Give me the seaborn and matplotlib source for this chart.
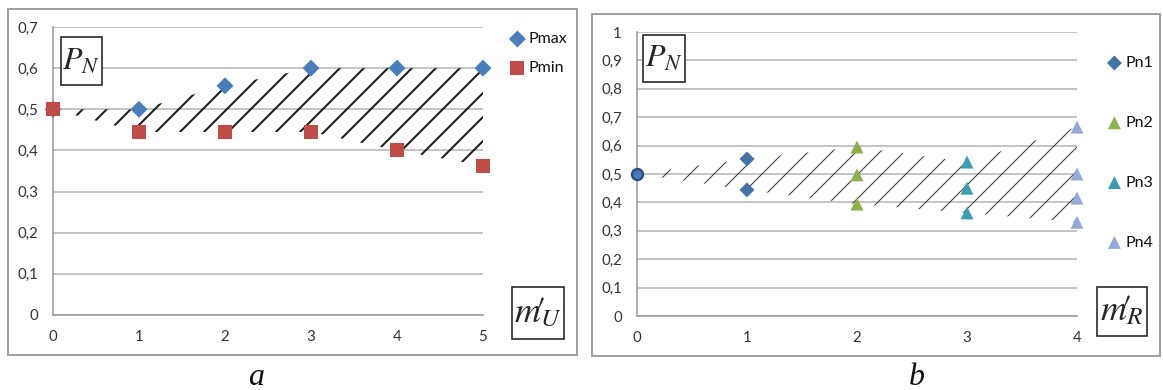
import seaborn as sns
import matplotlib.pyplot as plt
import pandas as pd
from matplotlib.patches import Rectangle

# panel a data
x_a = [0, 1, 2, 3, 4, 5]
pmax = [0.5, 0.5, 0.557, 0.6, 0.6, 0.6]
pmin = [0.5, 0.445, 0.445, 0.445, 0.4, 0.363]
yticks_a = [0, 0.1, 0.2, 0.3, 0.4, 0.5, 0.6, 0.7]
ylabels_a = ['0', '0,1', '0,2', '0,3', '0,4', '0,5', '0,6', '0,7']
xticks_a = [0, 1, 2, 3, 4, 5]

# panel b data
pn0_x = [0]
pn0_y = [0.5]
pn1_x = [1, 1]
pn1_y = [0.553, 0.444]
pn2_x = [2, 2, 2]
pn2_y = [0.595, 0.497, 0.394]
pn3_x = [3, 3, 3]
pn3_y = [0.542, 0.45, 0.363]
pn4_x = [4, 4, 4, 4]
pn4_y = [0.665, 0.5, 0.415, 0.33]
yticks_b = [0, 0.1, 0.2, 0.3, 0.4, 0.5, 0.6, 0.7, 0.8, 0.9, 1.0]
ylabels_b = ['0', '0,1', '0,2', '0,3', '0,4', '0,5', '0,6', '0,7', '0,8', '0,9', '1']
xticks_b = [0, 1, 2, 3, 4]

sns.set_style('white')
plt.rcParams['font.family'] = ['Lato', 'DejaVu Sans']
plt.rcParams['mathtext.fontset'] = 'stix'

W, H = 1163, 390
DPI = 144
fig = plt.figure(figsize=(W / DPI, H / DPI), dpi=DPI)

ax_a = fig.add_axes([53 / W, 1 - 315 / H, 430 / W, 288 / H])
ax_b = fig.add_axes([637 / W, 1 - 316 / H, 440 / W, 284 / H])

grid_c = '#BEBEBE'
axis_c = '#9A9A9A'
text_c = '#333333'


def style_axes(ax, xmax, ymax, yticks, ylabels, xticks):
    ax.set_xlim(0, xmax)
    ax.set_ylim(0, ymax)
    ax.set_yticks(yticks)
    ax.set_yticklabels(ylabels)
    ax.set_xticks(xticks)
    ax.set_xticklabels([str(t) for t in xticks])
    for s in ['top', 'right']:
        ax.spines[s].set_visible(False)
    for s in ['left', 'bottom']:
        ax.spines[s].set_color(axis_c)
        ax.spines[s].set_linewidth(0.8)
    ax.grid(axis='y', color=grid_c, linewidth=0.9)
    ax.grid(axis='x', visible=False)
    ax.tick_params(axis='both', direction='out', length=2.5, width=0.6,
                   color=axis_c, labelsize=7.5, labelcolor=text_c)
    ax.tick_params(axis='y', pad=5)
    ax.tick_params(axis='x', pad=5)
    ax.set_xlabel('')
    ax.set_ylabel('')
    ax.set_axisbelow(True)


# ---- panel a
with plt.rc_context({'hatch.linewidth': 1.0, 'hatch.color': '#1a1a1a'}):
    ax_a.fill_between(x_a, pmin, pmax, facecolor='none', edgecolor='#1a1a1a',
                      linewidth=0, hatch='//')
df_a = pd.DataFrame({'x': x_a, 'Pmax': pmax, 'Pmin': pmin})
sns.scatterplot(data=df_a, x='x', y='Pmax', ax=ax_a, marker='D', s=36,
                color='#4A7EBB', edgecolor='none', label='Pmax', clip_on=False, zorder=4)
sns.scatterplot(data=df_a, x='x', y='Pmin', ax=ax_a, marker='s', s=50,
                color='#BE4B48', edgecolor='none', label='Pmin', clip_on=False, zorder=5)
style_axes(ax_a, 5, 0.7, yticks_a, ylabels_a, xticks_a)
ax_a.legend(loc='upper left', bbox_to_anchor=(503 / W, 1 - 24 / H),
            bbox_transform=fig.transFigure, frameon=False, fontsize=8,
            handlelength=0.8, handletextpad=0.3, labelspacing=0.9, borderpad=0,
            labelcolor='#111111')

# ---- panel b
lower_b = [min(g) for g in [pn0_y, pn1_y, pn2_y, pn3_y, pn4_y]]
upper_b = [max(g) for g in [pn0_y, pn1_y, pn2_y, pn3_y, pn4_y]]
with plt.rc_context({'hatch.linewidth': 0.5, 'hatch.color': '#333333'}):
    ax_b.fill_between(xticks_b, lower_b, upper_b, facecolor='none', edgecolor='#333333',
                      linewidth=0, hatch='//')
sns.scatterplot(x=pn0_x, y=pn0_y, ax=ax_b, marker='o', s=30, color='#4A7EBB',
                edgecolor='#2C4D75', linewidth=1.2, clip_on=False, zorder=5)
sns.scatterplot(x=pn1_x, y=pn1_y, ax=ax_b, marker='D', s=28, color='#4572A7',
                edgecolor='none', label='Pn1', clip_on=False, zorder=5)
sns.scatterplot(x=pn2_x, y=pn2_y, ax=ax_b, marker='^', s=42, color='#8DAF4E',
                edgecolor='none', label='Pn2', clip_on=False, zorder=5)
sns.scatterplot(x=pn3_x, y=pn3_y, ax=ax_b, marker='^', s=42, color='#3C9DB1',
                edgecolor='none', label='Pn3', clip_on=False, zorder=5)
sns.scatterplot(x=pn4_x, y=pn4_y, ax=ax_b, marker='^', s=42, color='#95A9D6',
                edgecolor='none', label='Pn4', clip_on=False, zorder=5)
style_axes(ax_b, 4, 1.0, yticks_b, ylabels_b, xticks_b)
ax_b.legend(loc='upper left', bbox_to_anchor=(1100 / W, 1 - 48 / H),
            bbox_transform=fig.transFigure, frameon=False, fontsize=8,
            handlelength=0.8, handletextpad=0.3, labelspacing=2.85, borderpad=0,
            labelcolor='#111111')

# frames around each chart
fig.add_artist(Rectangle((8 / W, 1 - 355 / H), 569 / W, 346 / H, transform=fig.transFigure,
                         fill=False, edgecolor='#A0A0A0', linewidth=1.0))
fig.add_artist(Rectangle((592 / W, 1 - 356 / H), 568 / W, 342 / H, transform=fig.transFigure,
                         fill=False, edgecolor='#A0A0A0', linewidth=1.0))


def label_box(x0, y0, x1, y1):
    fig.add_artist(Rectangle((x0 / W, 1 - y1 / H), (x1 - x0) / W, (y1 - y0) / H,
                             transform=fig.transFigure, facecolor='white',
                             edgecolor='#222222', linewidth=0.8, zorder=6))


# P_N boxes
label_box(61, 37, 102, 85)
fig.text(81 / W, 1 - 61 / H, '$P_N$', fontsize=16, ha='center', va='center', zorder=7)
label_box(643, 35, 685, 82)
fig.text(664 / W, 1 - 58 / H, '$P_N$', fontsize=16, ha='center', va='center', zorder=7)

# m' boxes
label_box(512, 287, 564, 339)
fig.text(538 / W, 1 - 312 / H, r"$m\!{\prime}_{\!\!U}$", fontsize=18,
         ha='center', va='center', zorder=7)
label_box(1097, 287, 1147, 336)
fig.text(1122 / W, 1 - 310 / H, r"$m\!{\prime}_{\!\!R}$", fontsize=18,
         ha='center', va='center', zorder=7)

serif_it = dict(family='Liberation Serif', style='italic', fontsize=16, color='#111111')
fig.text(256 / W, 1 - 385 / H, 'a', ha='center', va='baseline', **serif_it)
fig.text(917 / W, 1 - 385 / H, 'b', ha='center', va='baseline', **serif_it)

fig.savefig('out.png', dpi=DPI, facecolor='white')
